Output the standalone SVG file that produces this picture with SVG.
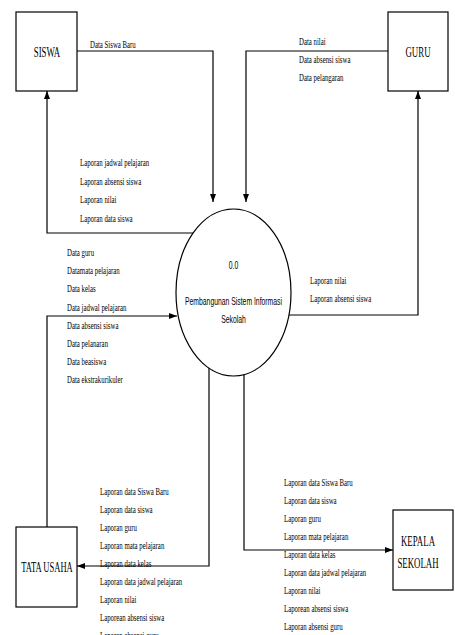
<svg xmlns="http://www.w3.org/2000/svg" width="455" height="635" viewBox="0 0 455 635">
<style>
.box{fill:#fff;stroke:#000;stroke-width:1.2}
.ln{fill:none;stroke:#000;stroke-width:1.2}
.lbl{font-family:"Liberation Serif",serif;font-size:11px;fill:#000}
.ent{font-family:"Liberation Serif",serif;font-size:15px;fill:#000;text-anchor:middle}
.prc{font-family:"Liberation Sans",Arial,sans-serif;font-size:11px;fill:#000;text-anchor:middle}
</style>
<defs>
<marker id="ah" viewBox="0 0 8 6" refX="8" refY="3" markerWidth="8" markerHeight="6" markerUnits="userSpaceOnUse" orient="auto">
<path d="M0,0 L8,3 L0,6 Z" fill="#000"/>
</marker>
</defs>
<rect width="455" height="635" fill="#fff"/>
<g id="connectors">
<polyline class="ln" points="77,51 213,51 213,202" marker-end="url(#ah)"/>
<polyline class="ln" points="388,51 246,51 246,202" marker-end="url(#ah)"/>
<polyline class="ln" points="193,233 47,233 47,91" marker-end="url(#ah)"/>
<polyline class="ln" points="289,315 418,315 418,91" marker-end="url(#ah)"/>
<polyline class="ln" points="47,527 47,316 177,316" marker-end="url(#ah)"/>
<polyline class="ln" points="209,368 209,566 77,566" marker-end="url(#ah)"/>
<polyline class="ln" points="244,374 244,550 393,550" marker-end="url(#ah)"/>
</g>
<g id="labels">
<text class="lbl" transform="translate(90 48) scale(0.62 1)">Data Siswa Baru</text>
<text class="lbl" transform="translate(299 45) scale(0.62 1)">Data nilai</text>
<text class="lbl" transform="translate(299 63) scale(0.62 1)">Data absensi siswa</text>
<text class="lbl" transform="translate(299 80.5) scale(0.62 1)">Data pelangaran</text>
<text class="lbl" transform="translate(80 166) scale(0.62 1)">Laporan jadwal pelajaran</text>
<text class="lbl" transform="translate(80 184.5) scale(0.62 1)">Laporan absensi siswa</text>
<text class="lbl" transform="translate(80 203) scale(0.62 1)">Laporan nilai</text>
<text class="lbl" transform="translate(80 221.5) scale(0.62 1)">Laporan data siswa</text>
<text class="lbl" transform="translate(310 284) scale(0.62 1)">Laporan nilai</text>
<text class="lbl" transform="translate(310 302) scale(0.62 1)">Laporan absensi siswa</text>
<text class="lbl" transform="translate(67 256) scale(0.62 1)">Data guru</text>
<text class="lbl" transform="translate(67 274.2) scale(0.62 1)">Datamata pelajaran</text>
<text class="lbl" transform="translate(67 292.4) scale(0.62 1)">Data kelas</text>
<text class="lbl" transform="translate(67 310.6) scale(0.62 1)">Data jadwal pelajaran</text>
<text class="lbl" transform="translate(67 328.8) scale(0.62 1)">Data absensi siswa</text>
<text class="lbl" transform="translate(67 347) scale(0.62 1)">Data pelanaran</text>
<text class="lbl" transform="translate(67 365.2) scale(0.62 1)">Data beasiswa</text>
<text class="lbl" transform="translate(67 383.4) scale(0.62 1)">Data ekstrakurikuler</text>
<text class="lbl" transform="translate(100 495) scale(0.62 1)">Laporan data Siswa Baru</text>
<text class="lbl" transform="translate(100 513) scale(0.62 1)">Laporan data siswa</text>
<text class="lbl" transform="translate(100 531) scale(0.62 1)">Laporan guru</text>
<text class="lbl" transform="translate(100 549) scale(0.62 1)">Laporan mata pelajaran</text>
<text class="lbl" transform="translate(100 567) scale(0.62 1)">Laporan data kelas</text>
<text class="lbl" transform="translate(100 585) scale(0.62 1)">Laporan data jadwal pelajaran</text>
<text class="lbl" transform="translate(100 603) scale(0.62 1)">Laporan nilai</text>
<text class="lbl" transform="translate(100 621) scale(0.62 1)">Laporean absensi siswa</text>
<text class="lbl" transform="translate(100 639) scale(0.62 1)">Laporan absensi guru</text>
<text class="lbl" transform="translate(284 485.5) scale(0.62 1)">Laporan data Siswa Baru</text>
<text class="lbl" transform="translate(284 503.6) scale(0.62 1)">Laporan data siswa</text>
<text class="lbl" transform="translate(284 521.7) scale(0.62 1)">Laporan guru</text>
<text class="lbl" transform="translate(284 539.8) scale(0.62 1)">Laporan mata pelajaran</text>
<text class="lbl" transform="translate(284 557.9) scale(0.62 1)">Laporan data kelas</text>
<text class="lbl" transform="translate(284 576) scale(0.62 1)">Laporan data jadwal pelajaran</text>
<text class="lbl" transform="translate(284 594.1) scale(0.62 1)">Laporan nilai</text>
<text class="lbl" transform="translate(284 612.2) scale(0.62 1)">Laporean absensi siswa</text>
<text class="lbl" transform="translate(284 630.3) scale(0.62 1)">Laporan absensi guru</text>
</g>
<g id="siswa">
<rect class="box" x="16" y="12" width="61" height="79"/>
<text class="ent" transform="translate(47 57) scale(0.59 1)">SISWA</text>
</g>
<g id="guru">
<rect class="box" x="388" y="12" width="60" height="79"/>
<text class="ent" transform="translate(418 57) scale(0.59 1)">GURU</text>
</g>
<g id="tata-usaha">
<rect class="box" x="16" y="527" width="61" height="80"/>
<text class="ent" transform="translate(47 572) scale(0.57 1)">TATA USAHA</text>
</g>
<g id="kepala-sekolah">
<rect class="box" x="393" y="510" width="60" height="80"/>
<text class="ent" transform="translate(418 546) scale(0.59 1)">KEPALA</text>
<text class="ent" transform="translate(418 568) scale(0.59 1)">SEKOLAH</text>
</g>
<g id="process">
<ellipse class="box" cx="233.5" cy="292.5" rx="57.5" ry="83.5"/>
<text class="prc" transform="translate(233.5 269) scale(0.62 1)">0.0</text>
<text class="prc" transform="translate(233.5 305) scale(0.62 1)">Pembangunan Sistem Informasi</text>
<text class="prc" transform="translate(233.5 323) scale(0.62 1)">Sekolah</text>
</g>
</svg>
